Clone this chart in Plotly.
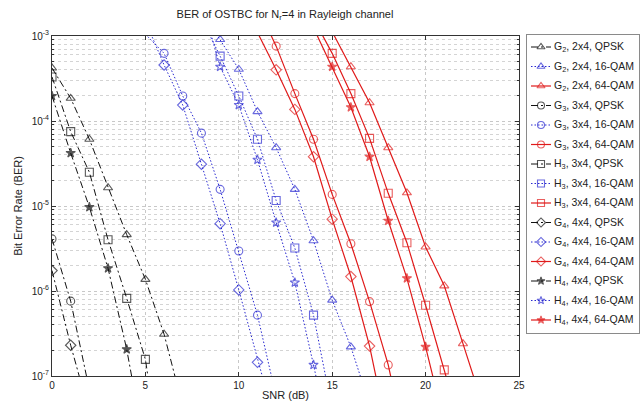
import plotly.graph_objects as go

# ---- BER curves (SNR in dB) ----
# QPSK
snr_g2_qpsk = [0, 1, 2, 3, 4, 5, 6, 7]
ber_g2_qpsk = [4.2e-4, 1.85e-4, 6.1e-5, 1.64e-5, 4.6e-6, 1.37e-6, 3.1e-7, 4.4e-8]
snr_g3_qpsk = [0, 1, 2]
ber_g3_qpsk = [4.1e-6, 7.6e-7, 6.9e-8]
snr_h3_qpsk = [0, 1, 2, 3, 4, 5, 6]
ber_h3_qpsk = [3.3e-4, 7.5e-5, 2.5e-5, 4.0e-6, 8.2e-7, 1.57e-7, 5e-9]
snr_g4_qpsk = [0, 1, 2]
ber_g4_qpsk = [1.74e-6, 2.3e-7, 3.7e-8]
snr_h4_qpsk = [0, 1, 2, 3, 4, 5]
ber_h4_qpsk = [1.97e-4, 4.2e-5, 9.7e-6, 1.85e-6, 2.06e-7, 1.3e-8]

# 16-QAM
snr_g2_16 = [8, 9, 10, 11, 12, 13, 14, 15, 16, 17]
ber_g2_16 = [2.0e-3, 9.1e-4, 4.06e-4, 1.29e-4, 4.85e-5, 1.57e-5, 3.9e-6, 7.8e-7, 2.2e-7, 4.6e-8]
snr_g3_16 = [5, 6, 7, 8, 9, 10, 11, 12]
ber_g3_16 = [1.05e-3, 6.25e-4, 1.97e-4, 7.2e-5, 1.57e-5, 2.95e-6, 5.2e-7, 5.7e-8]
snr_h3_16 = [8, 9, 10, 11, 12, 13, 14, 15]
ber_h3_16 = [1.6e-3, 5.8e-4, 1.97e-4, 6.1e-5, 1.16e-5, 3.2e-6, 5.2e-7, 4e-8]
snr_g4_16 = [5, 6, 7, 8, 9, 10, 11, 12]
ber_g4_16 = [1.5e-3, 4.56e-4, 1.54e-4, 3.1e-5, 6.2e-6, 1.03e-6, 1.45e-7, 2.5e-8]
snr_h4_16 = [8, 9, 10, 11, 12, 13, 14, 15]
ber_h4_16 = [2.6e-3, 4.35e-4, 1.54e-4, 3.5e-5, 6.4e-6, 1.26e-6, 1.35e-7, 1.3e-8]

# 64-QAM
snr_g2_64 = [15, 16, 17, 18, 19, 20, 21, 22, 23]
ber_g2_64 = [1.12e-3, 4.35e-4, 1.64e-4, 4.85e-5, 1.43e-5, 3.3e-6, 1.15e-6, 2.4e-7, 5e-8]
snr_g3_64 = [11, 12, 13, 14, 15, 16, 17, 18, 19]
ber_g3_64 = [2.2e-3, 7.6e-4, 2.1e-4, 6.1e-5, 1.37e-5, 3.6e-6, 7.5e-7, 1.35e-7, 1.3e-8]
snr_h3_64 = [14, 15, 16, 17, 18, 19, 20, 21, 22]
ber_h3_64 = [1.6e-3, 6.25e-4, 2.1e-4, 6.25e-5, 1.41e-5, 3.7e-6, 6.8e-7, 1.18e-7, 2e-8]
snr_g4_64 = [11, 12, 13, 14, 15, 16, 17, 18]
ber_g4_64 = [1.1e-3, 4.0e-4, 1.37e-4, 3.8e-5, 7.0e-6, 1.48e-6, 2.25e-7, 2e-8]
snr_h4_64 = [14, 15, 16, 17, 18, 19, 20, 21]
ber_h4_64 = [1.25e-3, 4.35e-4, 1.45e-4, 3.8e-5, 6.7e-6, 1.41e-6, 2.2e-7, 2.8e-8]

# axis ticks
x_ticks = [0, 5, 10, 15, 20, 25]
y_ticks = [1e-7, 1e-6, 1e-5, 1e-4, 1e-3]
y_tick_text = ["10<sup>-7</sup>", "10<sup>-6</sup>", "10<sup>-5</sup>",
               "10<sup>-4</sup>", "10<sup>-3</sup>"]

BER_MIN, BER_MAX = 1e-7, 1e-3
FONT = "Liberation Sans, Arial"
W, H = 644, 402

mods = {
    "QPSK":   dict(color="#111111", dash="7px,3px,2px,3px", width=1.0),
    "16-QAM": dict(color="#2828d0", dash="1.5px,2px", width=1.0),
    "64-QAM": dict(color="#e01a1a", dash="solid", width=1.2),
}

series = [
    ("G<sub>2</sub>, 2x4, QPSK", snr_g2_qpsk, ber_g2_qpsk, "QPSK", "triangle-up-open"),
    ("G<sub>2</sub>, 2x4, 16-QAM", snr_g2_16, ber_g2_16, "16-QAM", "triangle-up-open"),
    ("G<sub>2</sub>, 2x4, 64-QAM", snr_g2_64, ber_g2_64, "64-QAM", "triangle-up-open"),
    ("G<sub>3</sub>, 3x4, QPSK", snr_g3_qpsk, ber_g3_qpsk, "QPSK", "circle-open"),
    ("G<sub>3</sub>, 3x4, 16-QAM", snr_g3_16, ber_g3_16, "16-QAM", "circle-open"),
    ("G<sub>3</sub>, 3x4, 64-QAM", snr_g3_64, ber_g3_64, "64-QAM", "circle-open"),
    ("H<sub>3</sub>, 3x4, QPSK", snr_h3_qpsk, ber_h3_qpsk, "QPSK", "square-open"),
    ("H<sub>3</sub>, 3x4, 16-QAM", snr_h3_16, ber_h3_16, "16-QAM", "square-open"),
    ("H<sub>3</sub>, 3x4, 64-QAM", snr_h3_64, ber_h3_64, "64-QAM", "square-open"),
    ("G<sub>4</sub>, 4x4, QPSK", snr_g4_qpsk, ber_g4_qpsk, "QPSK", "diamond-open"),
    ("G<sub>4</sub>, 4x4, 16-QAM", snr_g4_16, ber_g4_16, "16-QAM", "diamond-open"),
    ("G<sub>4</sub>, 4x4, 64-QAM", snr_g4_64, ber_g4_64, "64-QAM", "diamond-open"),
    ("H<sub>4</sub>, 4x4, QPSK", snr_h4_qpsk, ber_h4_qpsk, "QPSK", "star"),
    ("H<sub>4</sub>, 4x4, 16-QAM", snr_h4_16, ber_h4_16, "16-QAM", "star-open"),
    ("H<sub>4</sub>, 4x4, 64-QAM", snr_h4_64, ber_h4_64, "64-QAM", "star"),
]

# legend panel geometry (panel-local pixel units)
LEG_W, LEG_H = 112, 298
ROW0, ROW_STEP = 12, 19.5
LINE_X = [4, 14, 24]
TEXT_X = 25

fig = go.Figure()
for i, (name, x, y, mod, sym) in enumerate(series):
    st = mods[mod]
    base = 7 if sym.startswith("star") else 8
    line = dict(color=st["color"], dash=st["dash"], width=st["width"])
    mline = dict(color=st["color"], width=1.1)
    # markers only where the point lies inside the plotted BER range
    sizes = [base if BER_MIN <= v <= BER_MAX else 0 for v in y]
    fig.add_trace(go.Scatter(
        x=x, y=y, name=name, mode="lines+markers", showlegend=False,
        line=line, marker=dict(symbol=sym, size=sizes, color=st["color"], line=mline),
        xaxis="x", yaxis="y",
    ))
    # key entry: short line sample with the marker in the middle
    row_y = ROW0 + ROW_STEP * i
    fig.add_trace(go.Scatter(
        x=LINE_X, y=[row_y] * 3, mode="lines+markers", showlegend=False,
        hoverinfo="skip", line=line,
        marker=dict(symbol=sym, size=[0, base - 1, 0], color=st["color"], line=mline),
        xaxis="x2", yaxis="y2",
    ))
    fig.add_annotation(x=TEXT_X, y=row_y, xref="x2", yref="y2", text=name,
                       showarrow=False, xanchor="left", yanchor="middle",
                       font=dict(family=FONT, size=10.5, color="#222222"))

axis_common = dict(
    showline=True, linecolor="#333333", linewidth=1, mirror="allticks",
    ticks="inside", ticklen=4, tickcolor="#333333",
    tickfont=dict(family=FONT, size=10, color="#222222"),
    gridcolor="#c8c8c8", griddash="dot", gridwidth=1, zeroline=False,
    automargin=False,
)

fig.update_layout(
    xaxis=dict(domain=[52 / W, 519 / W], range=[0, 25], tickvals=x_ticks,
               showgrid=True, anchor="y",
               title=dict(text="SNR (dB)", standoff=1,
                          font=dict(family=FONT, size=11, color="#222222")),
               **axis_common),
    yaxis=dict(domain=[1 - 376 / H, 1 - 36 / H], type="log", range=[-7, -3],
               tickvals=y_ticks, ticktext=y_tick_text, showgrid=True, anchor="x",
               minor=dict(showgrid=True, gridcolor="#d4d4d4", griddash="dot",
                          ticks="inside", ticklen=2, tickcolor="#333333", dtick="D1"),
               title=dict(text="Bit Error Rate (BER)", standoff=6,
                          font=dict(family=FONT, size=11, color="#222222")),
               **axis_common),
    xaxis2=dict(domain=[527 / W, 639 / W], range=[0, LEG_W], anchor="y2",
                showline=True, mirror=True, linecolor="#8a8a8a", linewidth=1,
                showgrid=False, zeroline=False, showticklabels=False, ticks="",
                fixedrange=True),
    yaxis2=dict(domain=[1 - 333 / H, 1 - 35 / H], range=[LEG_H, 0], anchor="x2",
                showline=True, mirror=True, linecolor="#8a8a8a", linewidth=1,
                showgrid=False, zeroline=False, showticklabels=False, ticks="",
                fixedrange=True),
    width=W, height=H,
    margin=dict(l=0, r=0, t=0, b=0, autoexpand=False),
    paper_bgcolor="white", plot_bgcolor="white",
    title=dict(text="BER of OSTBC for N<sub>r</sub>=4 in Rayleigh channel",
               x=285 / W, xref="paper", xanchor="center", y=0.965, yanchor="middle",
               font=dict(family=FONT, size=11, color="#222222")),
    showlegend=False,
)

fig.write_html("out.html")
